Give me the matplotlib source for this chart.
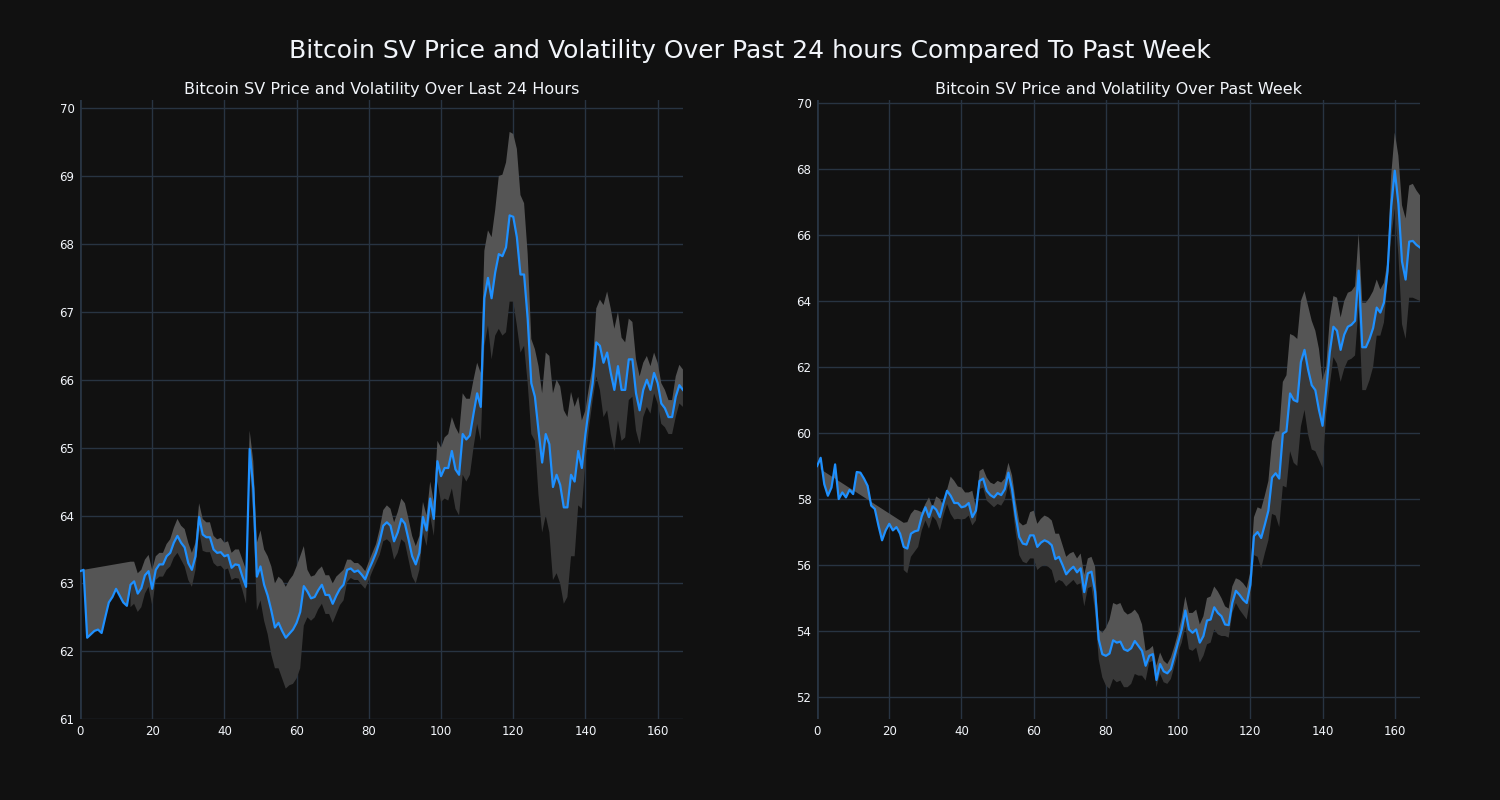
import numpy as np
import matplotlib
matplotlib.use("Agg")
import matplotlib.pyplot as plt

nan = np.nan

# Last 24 hours: price and volatility band
day_price = [
    63.18, 63.20, 62.20, 62.25, 62.30, 62.32, 62.27, 62.50, 62.72, 62.80,
    62.92, 62.82, 62.72, 62.67, 62.98, 63.03, 62.85, 62.93, 63.12, 63.18,
    62.92, 63.20, 63.28, 63.28, 63.40, 63.45, 63.60, 63.70, 63.60, 63.53,
    63.30, 63.20, 63.40, 63.98, 63.72, 63.68, 63.68, 63.50, 63.45, 63.46,
    63.40, 63.42, 63.23, 63.28, 63.27, 63.10, 62.95, 64.98, 64.40, 63.10,
    63.25, 62.98, 62.82, 62.60, 62.35, 62.42, 62.30, 62.20, 62.26, 62.32,
    62.42, 62.58, 62.96, 62.88, 62.78, 62.80, 62.90, 62.98, 62.83, 62.83,
    62.70, 62.82, 62.92, 62.98, 63.20, 63.22, 63.17, 63.19, 63.13, 63.06,
    63.20, 63.32, 63.45, 63.62, 63.85, 63.90, 63.85, 63.62, 63.75, 63.95,
    63.88, 63.65, 63.40, 63.28, 63.45, 63.98, 63.78, 64.25, 63.95, 64.80,
    64.58, 64.70, 64.70, 64.95, 64.68, 64.60, 65.20, 65.12, 65.18, 65.50,
    65.80, 65.60, 67.20, 67.50, 67.20, 67.58, 67.85, 67.82, 67.95, 68.42,
    68.40, 68.10, 67.55, 67.55, 66.90, 65.95, 65.75, 65.25, 64.78, 65.20,
    65.05, 64.42, 64.60, 64.45, 64.12, 64.12, 64.60, 64.50, 64.95, 64.70,
    65.20, 65.60, 65.95, 66.55, 66.50, 66.25, 66.40, 66.10, 65.85, 66.20,
    65.85, 65.85, 66.30, 66.30, 65.80, 65.55, 65.85, 66.00, 65.85, 66.10,
    65.95, 65.65, 65.58, 65.45, 65.45, 65.75, 65.92, 65.85,
]
day_upper = [
    63.18, 63.20, nan, nan, nan, nan, nan, nan, nan, nan,
    nan, nan, nan, nan, 63.32, 63.32, 63.15, 63.20, 63.35, 63.42,
    63.20, 63.40, 63.45, 63.45, 63.58, 63.65, 63.82, 63.95, 63.85, 63.80,
    63.60, 63.45, 63.60, 64.18, 63.95, 63.90, 63.90, 63.70, 63.65, 63.67,
    63.60, 63.62, 63.45, 63.50, 63.50, 63.35, 63.20, 65.25, 64.80, 63.60,
    63.78, 63.50, 63.40, 63.25, 63.00, 63.10, 63.05, 62.95, 63.05, 63.12,
    63.25, 63.40, 63.55, 63.20, 63.10, 63.12, 63.20, 63.25, 63.12, 63.12,
    63.00, 63.10, 63.15, 63.20, 63.35, 63.35, 63.30, 63.30, 63.25, 63.18,
    63.32, 63.45, 63.58, 63.80, 64.08, 64.15, 64.10, 63.90, 64.05, 64.25,
    64.18, 63.95, 63.70, 63.55, 63.70, 64.20, 64.00, 64.50, 64.20, 65.10,
    65.00, 65.15, 65.20, 65.45, 65.30, 65.20, 65.80, 65.72, 65.72, 66.00,
    66.25, 66.10, 67.90, 68.20, 68.10, 68.50, 69.00, 69.02, 69.20, 69.65,
    69.62, 69.40, 68.72, 68.60, 67.85, 66.60, 66.45, 66.20, 65.80, 66.40,
    66.35, 65.80, 66.00, 65.90, 65.55, 65.45, 65.82, 65.60, 65.75, 65.40,
    65.55, 65.90, 66.20, 67.05, 67.18, 67.10, 67.30, 67.05, 66.75, 67.00,
    66.62, 66.55, 66.90, 66.85, 66.30, 66.05, 66.25, 66.35, 66.20, 66.40,
    66.25, 65.95, 65.85, 65.70, 65.70, 66.05, 66.22, 66.15,
]
day_lower = [
    nan, nan, nan, nan, nan, nan, nan, nan, nan, nan,
    nan, nan, nan, nan, 62.65, 62.70, 62.58, 62.65, 62.85, 62.95,
    62.68, 63.05, 63.10, 63.10, 63.20, 63.25, 63.38, 63.45, 63.35, 63.25,
    63.05, 62.95, 63.20, 63.78, 63.48, 63.46, 63.46, 63.30, 63.25, 63.26,
    63.20, 63.22, 63.05, 63.08, 63.07, 62.90, 62.70, 64.70, 64.00, 62.60,
    62.75, 62.45, 62.25, 61.95, 61.75, 61.75, 61.60, 61.45, 61.50, 61.52,
    61.60, 61.75, 62.38, 62.50, 62.45, 62.50, 62.62, 62.70, 62.55, 62.55,
    62.42, 62.55, 62.68, 62.75, 63.02, 63.08, 63.05, 63.05, 62.98, 62.92,
    63.05, 63.18, 63.30, 63.42, 63.62, 63.65, 63.60, 63.35, 63.45, 63.65,
    63.60, 63.35, 63.10, 63.00, 63.20, 63.75, 63.55, 64.00, 63.70, 64.50,
    64.20, 64.25, 64.22, 64.40, 64.10, 64.00, 64.60, 64.50, 64.60, 65.00,
    65.35, 65.10, 66.50, 66.80, 66.30, 66.65, 66.75, 66.65, 66.70, 67.15,
    67.15, 66.80, 66.40, 66.50, 65.95, 65.20, 65.10, 64.30, 63.75, 64.00,
    63.75, 63.05, 63.15, 63.00, 62.70, 62.80, 63.40, 63.40, 64.15, 64.10,
    64.80, 65.30, 65.70, 66.05, 65.85, 65.45, 65.55, 65.20, 64.95, 65.40,
    65.10, 65.15, 65.70, 65.75, 65.25, 65.05, 65.45, 65.60, 65.50, 65.80,
    65.65, 65.35, 65.30, 65.20, 65.20, 65.45, 65.65, 65.60,
]

# Past week: price and volatility band
week_price = [
    59.00, 59.25, 58.45, 58.10, 58.35, 59.05, 58.00, 58.20, 58.05, 58.28,
    58.15, 58.82, 58.80, 58.62, 58.40, 57.80, 57.70, 57.20, 56.75, 57.05,
    57.25, 57.05, 57.15, 56.95, 56.55, 56.50, 56.95, 57.02, 57.05, 57.48,
    57.75, 57.45, 57.78, 57.68, 57.45, 57.88, 58.25, 58.10, 57.88, 57.88,
    57.75, 57.78, 57.88, 57.45, 57.65, 58.55, 58.62, 58.25, 58.12, 58.05,
    58.18, 58.12, 58.30, 58.80, 58.30, 57.50, 56.85, 56.65, 56.62, 56.90,
    56.90, 56.55, 56.68, 56.75, 56.70, 56.60, 56.18, 56.25, 56.00, 55.72,
    55.85, 55.95, 55.78, 55.90, 55.18, 55.75, 55.80, 55.20, 53.75, 53.30,
    53.25, 53.32, 53.72, 53.65, 53.68, 53.45, 53.40, 53.48, 53.70, 53.55,
    53.40, 52.95, 53.25, 53.30, 52.52, 53.00, 52.78, 52.72, 52.85, 53.25,
    53.65, 54.05, 54.62, 54.05, 53.95, 54.05, 53.65, 53.85, 54.32, 54.35,
    54.72, 54.55, 54.45, 54.20, 54.18, 54.85, 55.22, 55.10, 54.95, 54.85,
    55.40, 56.88, 57.00, 56.82, 57.22, 57.65, 58.65, 58.78, 58.62, 59.98,
    60.05, 61.20, 61.00, 60.95, 62.15, 62.52, 61.92, 61.45, 61.30, 60.70,
    60.22, 61.30, 62.45, 63.22, 63.10, 62.52, 62.98, 63.22, 63.28, 63.40,
    64.92, 62.60, 62.60, 62.85, 63.18, 63.80, 63.65, 63.95, 64.90, 66.85,
    67.95, 66.95, 65.20, 64.65, 65.80, 65.82, 65.70, 65.62,
]
week_upper = [
    nan, 58.90, nan, nan, nan, nan, nan, nan, nan, nan,
    nan, nan, nan, nan, nan, nan, nan, nan, nan, nan,
    nan, nan, nan, nan, 57.28, 57.30, 57.55, 57.68, 57.65, 57.60,
    57.85, 58.05, 57.75, 58.08, 58.00, 57.80, 58.28, 58.68, 58.55, 58.38,
    58.35, 58.20, 58.20, 58.25, 57.75, 58.85, 58.92, 58.65, 58.50, 58.45,
    58.55, 58.50, 58.62, 59.10, 58.72, 57.95, 57.30, 57.20, 57.25, 57.60,
    57.65, 57.25, 57.40, 57.50, 57.45, 57.35, 56.95, 56.95, 56.60, 56.25,
    56.35, 56.40, 56.20, 56.35, 55.70, 56.20, 56.25, 55.95, 54.05, 53.95,
    54.10, 54.35, 54.85, 54.80, 54.85, 54.60, 54.50, 54.55, 54.65, 54.50,
    54.20, 53.40, 53.45, 53.55, 52.95, 53.35, 53.10, 53.00, 53.20, 53.55,
    53.95, 54.40, 55.05, 54.55, 54.55, 54.65, 54.20, 54.45, 55.00, 55.05,
    55.35, 55.20, 55.00, 54.75, 54.68, 55.35, 55.60, 55.55, 55.45, 55.30,
    55.80, 57.45, 57.75, 57.70, 58.10, 58.55, 59.75, 60.05, 60.05, 61.55,
    61.75, 63.00, 62.95, 62.85, 64.00, 64.30, 63.85, 63.40, 63.10, 62.55,
    61.60, 62.00, 63.45, 64.15, 64.10, 63.50, 64.00, 64.25, 64.30, 64.45,
    66.05, 63.95, 63.95, 64.10, 64.30, 64.65, 64.35, 64.55, 65.20, 67.80,
    69.10, 68.40, 66.90, 66.50, 67.50, 67.55, 67.35, 67.20,
]
week_lower = [
    nan, nan, nan, nan, nan, nan, nan, nan, nan, nan,
    nan, nan, nan, nan, nan, nan, nan, nan, nan, nan,
    nan, nan, nan, nan, 55.85, 55.75, 56.25, 56.40, 56.55, 57.05,
    57.35, 57.10, 57.48, 57.35, 57.05, 57.50, 57.85, 57.55, 57.38, 57.40,
    57.38, 57.40, 57.50, 57.20, 57.35, 58.30, 58.35, 57.95, 57.85, 57.75,
    57.85, 57.80, 57.98, 58.45, 57.90, 57.00, 56.30, 56.10, 56.05, 56.20,
    56.20, 55.85, 55.95, 56.00, 55.95, 55.85, 55.45, 55.55, 55.50, 55.35,
    55.45, 55.55, 55.40, 55.45, 54.75, 55.30, 55.35, 54.60, 53.15, 52.60,
    52.35, 52.25, 52.55, 52.45, 52.50, 52.30, 52.30, 52.40, 52.70, 52.65,
    52.65, 52.50, 53.05, 53.10, 52.30, 52.70, 52.45, 52.40, 52.55, 52.95,
    53.35, 53.65, 54.15, 53.45, 53.40, 53.50, 53.05, 53.25, 53.60, 53.65,
    54.05, 53.90, 53.85, 53.85, 53.80, 54.55, 54.85, 54.65, 54.50, 54.35,
    55.00, 56.30, 56.25, 55.90, 56.35, 56.75, 57.55, 57.50, 57.15, 58.40,
    58.35, 59.45, 59.10, 59.00, 60.20, 60.70, 59.95, 59.50, 59.45, 59.20,
    58.95, 60.55, 61.45, 62.30, 62.10, 61.55, 61.95, 62.20, 62.25, 62.35,
    63.85, 61.30, 61.30, 61.60, 62.00, 62.95, 62.95, 63.35, 64.60, 65.90,
    66.80, 65.40, 63.30, 62.85, 64.10, 64.10, 64.05, 64.00,
]

bg = "#111111"
grid_col = "#283442"
text_col = "#f2f5fa"


def band(ax, price, band_vals, color):
    # polygon between the band trace (gaps skipped) and the price line
    x = np.arange(len(price))
    p = np.array(price)
    b = np.array(band_vals)
    ok = ~np.isnan(b)
    start = x[ok][0]
    px = np.r_[x[ok], x[start:][::-1]]
    py = np.r_[b[ok], p[start:][::-1]]
    ax.fill(px, py, color=color, lw=0, zorder=2)


def draw(ax, price, upper, lower, title, ylim, yticks):
    x = np.arange(len(price))
    ax.set_facecolor(bg)
    band(ax, price, lower, "#383838")
    band(ax, price, upper, "#555555")
    ax.plot(x, price, color="#1e90ff", lw=1.6, zorder=3)
    ax.set_xlim(0, len(price) - 1)
    ax.set_ylim(*ylim)
    ax.set_yticks(yticks)
    ax.set_xticks(range(0, 161, 20))
    ax.grid(True, color=grid_col, lw=1)
    ax.set_axisbelow(True)
    for s in ax.spines.values():
        s.set_visible(False)
    ax.axvline(0, color=grid_col, lw=2, zorder=1)
    ax.tick_params(colors=text_col, labelsize=8.5, length=0, pad=4)
    ax.set_title(title, color=text_col, fontsize=11.5, pad=4.5)


fig = plt.figure(figsize=(15, 8), dpi=100, facecolor=bg)
ax1 = fig.add_axes([0.0533, 0.101, 0.402, 0.774])
ax2 = fig.add_axes([0.5447, 0.101, 0.402, 0.774])

draw(ax1, day_price, day_upper, day_lower,
     "Bitcoin SV Price and Volatility Over Last 24 Hours",
     (61, 70.12), range(61, 71))
draw(ax2, week_price, week_upper, week_lower,
     "Bitcoin SV Price and Volatility Over Past Week",
     (51.33, 70.09), range(52, 71, 2))

fig.suptitle("Bitcoin SV Price and Volatility Over Past 24 hours Compared To Past Week",
             color=text_col, fontsize=18, y=0.951)

fig.savefig("out.png", facecolor=bg)
